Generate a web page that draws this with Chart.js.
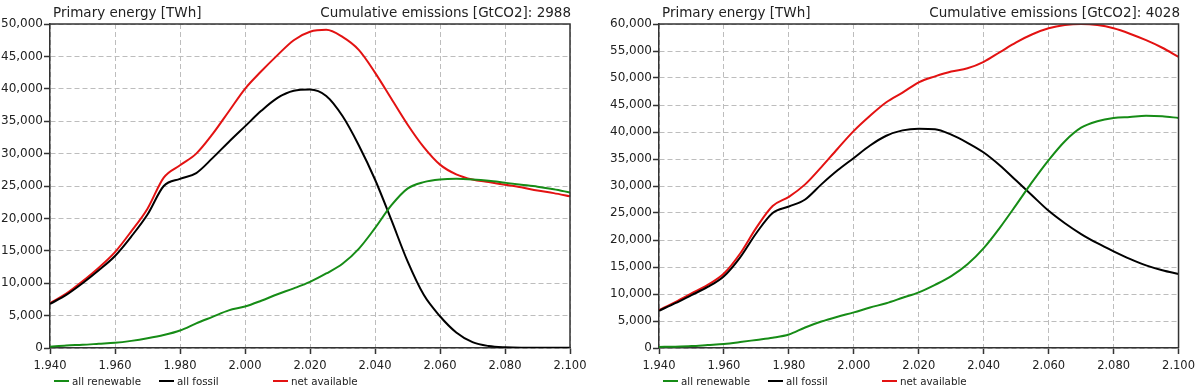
<!DOCTYPE html>
<html>
<head>
<meta charset="utf-8">
<script src="https://cdn.jsdelivr.net/npm/chart.js@4.4.1/dist/chart.umd.min.js"></script>
<style>
    html, body { margin: 0; padding: 0; background: #fff; }
    body { width: 1200px; height: 390px; position: relative; overflow: hidden; font-family: 'DejaVu Sans', sans-serif; color: #222; }
    .panel { position: absolute; top: 0; width: 600px; height: 390px; }
    .panel canvas { position: absolute; left: 0; top: 0; }
    .head { position: absolute; top: 4px; font-size: 13.5px; line-height: 16px; white-space: nowrap; }
    .legend { position: absolute; top: 374px; height: 14px; font-size: 10.3px; line-height: 14px; }
    .legend span.item { position: absolute; top: 0; white-space: nowrap; }
    .legend i { display: inline-block; width: 15px; height: 2.5px; vertical-align: middle; margin-right: 3px; position: relative; top: -1px; }
</style>
</head>
<body>
<div class="panel" id="panelA" style="left:0">
    <canvas id="chartA" width="600" height="390"></canvas>
</div>
<div class="panel" id="panelB" style="left:600px">
    <canvas id="chartB" width="600" height="390"></canvas>
</div>
<script>
// years, 5-year steps
const years = [1940, 1945, 1950, 1955, 1960, 1965, 1970, 1975, 1980, 1985, 1990, 1995, 2000,
    2005, 2010, 2015, 2020, 2025, 2030, 2035, 2040, 2045, 2050, 2055, 2060, 2065, 2070,
    2075, 2080, 2085, 2090, 2095, 2100];

const seriesNames = ['all renewable', 'all fossil', 'net available'];
const seriesColors = ['#168c16', '#000000', '#e31212'];

// left scenario
const renewableA = [200, 400, 500, 650, 800, 1100, 1500, 2000, 2700, 3800, 4800, 5800, 6400,
    7300, 8300, 9200, 10200, 11500, 13000, 15300, 18500, 22000, 24600, 25600, 26000, 26100, 26000,
    25800, 25500, 25200, 24900, 24500, 24000];
const fossilA = [6800, 8200, 10000, 12000, 14200, 17200, 20600, 25000, 26100, 27000, 29300, 31800, 34200,
    36600, 38600, 39700, 39900, 38900, 35800, 31300, 26000, 19800, 13400, 8200, 4900, 2400, 900,
    300, 100, 50, 50, 50, 50];
const netA = [6900, 8400, 10300, 12400, 14800, 18000, 21500, 26300, 28200, 30000, 33000, 36500, 40000,
    42700, 45200, 47500, 48800, 49100, 48000, 46000, 42500, 38500, 34500, 31000, 28300, 26800, 26000,
    25600, 25200, 24800, 24300, 23900, 23400];
const emissionsA = 2988;

// right scenario
const renewableB = [200, 250, 350, 550, 750, 1100, 1500, 1900, 2500, 3800, 4900, 5800, 6600,
    7500, 8300, 9300, 10300, 11700, 13300, 15500, 18500, 22300, 26500, 30800, 34800, 38300, 40800,
    42000, 42600, 42800, 43000, 42900, 42600];
const fossilB = [6900, 8300, 9800, 11300, 13300, 16800, 21300, 25000, 26200, 27500, 30300, 32900, 35200,
    37500, 39300, 40300, 40600, 40500, 39500, 38000, 36200, 33800, 31000, 28200, 25400, 23100, 21100,
    19400, 17900, 16500, 15300, 14400, 13700];
const netB = [7000, 8500, 10100, 11700, 13800, 17500, 22300, 26300, 28000, 30300, 33500, 36900, 40200,
    43000, 45500, 47300, 49200, 50300, 51200, 51800, 53000, 54800, 56600, 58100, 59200, 59800, 60000,
    59800, 59200, 58200, 57000, 55600, 53900];
const emissionsB = 4028;

Chart.defaults.font.family = "'DejaVu Sans', sans-serif";
Chart.defaults.font.size = 11;
Chart.defaults.color = '#222';

// closes the plot box on top and right
const boxPlugin = {
    id: 'plotBox',
    afterDraw(chart) {
        const a = chart.chartArea;
        const ctx = chart.ctx;
        ctx.save();
        ctx.strokeStyle = '#333';
        ctx.lineWidth = 1.5;
        ctx.beginPath();
        ctx.moveTo(a.left, a.top);
        ctx.lineTo(a.right, a.top);
        ctx.lineTo(a.right, a.bottom);
        ctx.stroke();
        ctx.restore();
    }
};

function makeChart(canvasId, panelId, lists, yMax, axisW, rightPad, emissions) {
    const datasets = lists.map((vals, i) => ({
        label: seriesNames[i],
        data: years.map((y, k) => ({ x: y, y: vals[k] })),
        borderColor: seriesColors[i],
        borderWidth: 2,
        pointRadius: 0,
        cubicInterpolationMode: 'monotone',
        fill: false
    }));

    new Chart(document.getElementById(canvasId), {
        type: 'line',
        data: { datasets: datasets },
        options: {
            responsive: false,
            animation: false,
            layout: { padding: { top: 24, right: rightPad, left: 0, bottom: 0 } },
            plugins: { legend: { display: false }, tooltip: { enabled: false } },
            scales: {
                x: {
                    type: 'linear',
                    min: 1940,
                    max: 2100,
                    afterFit: s => { s.height = 42; },
                    ticks: {
                        stepSize: 20,
                        padding: 5,
                        maxRotation: 0,
                        font: { size: 11.5 },
                        callback: v => String(v).replace(/^(\d)(\d{3})$/, '$1.$2')
                    },
                    grid: { color: '#bdbdbd', lineWidth: 1, tickLength: 6, tickColor: '#333', tickWidth: 1.5 },
                    border: { display: true, color: '#333', width: 1.5, dash: [5, 3] }
                },
                y: {
                    min: 0,
                    max: yMax,
                    afterFit: s => { s.width = axisW; },
                    ticks: {
                        stepSize: 5000,
                        padding: 1,
                        font: { size: 12 },
                        callback: v => v.toLocaleString('en-US')
                    },
                    grid: { color: '#bdbdbd', lineWidth: 1, tickLength: 6, tickColor: '#333', tickWidth: 1.5 },
                    border: { display: true, color: '#333', width: 1.5, dash: [5, 3] }
                }
            }
        },
        plugins: [boxPlugin]
    });

    // headers and legend as html text
    const panel = document.getElementById(panelId);
    const left = document.createElement('div');
    left.className = 'head';
    left.style.left = (axisW + 3) + 'px';
    left.textContent = 'Primary energy [TWh]';
    panel.appendChild(left);

    const right = document.createElement('div');
    right.className = 'head';
    right.style.right = (rightPad - 1) + 'px';
    right.textContent = 'Cumulative emissions [GtCO2]: ' + emissions;
    panel.appendChild(right);

    const legend = document.createElement('div');
    legend.className = 'legend';
    legend.style.left = '0px';
    legend.style.width = '600px';
    const offsets = [4, 109, 223];
    seriesNames.forEach((name, i) => {
        const item = document.createElement('span');
        item.className = 'item';
        item.style.left = (axisW + offsets[i]) + 'px';
        item.innerHTML = '<i style="background:' + seriesColors[i] + '"></i>';
        item.appendChild(document.createTextNode(name));
        legend.appendChild(item);
    });
    panel.appendChild(legend);
}

makeChart('chartA', 'panelA', [renewableA, fossilA, netA], 50000, 50, 30, emissionsA);
makeChart('chartB', 'panelB', [renewableB, fossilB, netB], 60000, 59, 21, emissionsB);
</script>
</body>
</html>
